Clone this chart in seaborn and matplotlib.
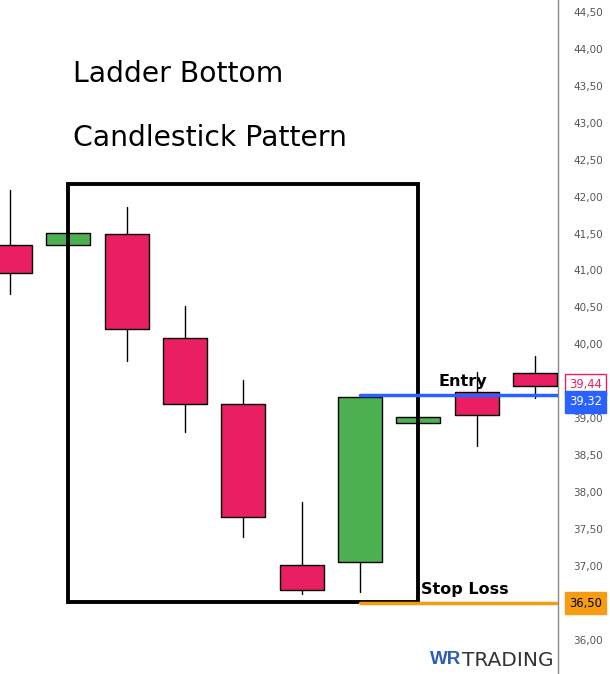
import matplotlib
matplotlib.use("Agg")
import matplotlib.pyplot as plt
import seaborn as sns
import numpy as np
import pandas as pd
from matplotlib.patches import Rectangle

# ---- data ----
opens = [41.35, 41.35, 41.50, 40.09, 39.19, 37.01, 37.06, 38.94, 39.36, 39.61]
closes = [40.97, 41.51, 40.21, 39.19, 37.66, 36.68, 39.29, 39.02, 39.05, 39.44]
highs = [42.09, 41.51, 41.86, 40.52, 39.52, 37.87, 39.29, 39.02, 39.63, 39.84]
lows = [40.68, 41.35, 39.78, 38.82, 37.39, 36.62, 36.65, 38.94, 38.63, 39.28]
y_ticks = [36.0, 36.5, 37.0, 37.5, 38.0, 38.5, 39.0, 39.5, 40.0, 40.5,
           41.0, 41.5, 42.0, 42.5, 43.0, 43.5, 44.0, 44.5]
hidden_ticks = [36.5, 39.5]   # covered by the price tags in the reference
entry_price = 39.32
stop_price = 36.50
last_price = 39.44
title_lines = ["Ladder Bottom", "Candlestick Pattern"]

df = pd.DataFrame({"i": np.arange(len(opens)), "open": opens, "close": closes,
                   "high": highs, "low": lows})

RED = "#e91e63"
GREEN = "#4caf50"
BLUE = "#2962ff"
ORANGE = "#f59c12"

sns.set_theme(style="white")
plt.rcParams["font.family"] = ["DejaVu Sans"]

fig = plt.figure(figsize=(6.10, 6.74), dpi=100)
ax = fig.add_axes([0, 0, 558 / 610, 1])

xmin, xmax = -0.171, 9.394
ymin, ymax = 35.54, 44.66
ax.set_xlim(xmin, xmax)
ax.set_ylim(ymin, ymax)

# wicks
for _, r in df.iterrows():
    ax.plot([r.i, r.i], [r.low, r.high], color="black", lw=1.0, zorder=2)

# bodies
w = 0.755
for _, r in df.iterrows():
    col = GREEN if r.close >= r.open else RED
    lo, hi = min(r.open, r.close), max(r.open, r.close)
    ax.add_patch(Rectangle((r.i - w / 2, lo), w, hi - lo, facecolor=col,
                           edgecolor="black", lw=1.0, zorder=3))

# highlight box
ax.add_patch(Rectangle((1, 36.51), 6, 42.17 - 36.51, fill=False,
                       edgecolor="black", lw=2.8, zorder=4))

# entry / stop lines
ax.plot([6, xmax], [entry_price, entry_price], color=BLUE, lw=2.5, zorder=5)
ax.plot([6, xmax], [stop_price, stop_price], color=ORANGE, lw=2.5, zorder=5)
ax.text(7.35, 39.50, "Entry", fontsize=11.5, fontweight="bold", ha="left",
        va="center", color="black", zorder=6)
ax.text(7.05, 36.68, "Stop Loss", fontsize=11.5, fontweight="bold", ha="left",
        va="center", color="black", zorder=6)

# titles
ax.text(1.08, 43.655, title_lines[0], fontsize=20.3, ha="left", va="center",
        color="black")
ax.text(1.08, 42.795, title_lines[1], fontsize=20.3, ha="left", va="center",
        color="black")

# axes styling
ax.set_xticks([])
ax.yaxis.tick_right()
ax.set_yticks(y_ticks)
ax.set_yticklabels(["" if v in hidden_ticks else f"{v:.2f}".replace(".", ",")
                    for v in y_ticks], fontsize=7.5, color="#555555")
ax.tick_params(axis="y", length=0, pad=11)
for s in ["top", "left", "bottom"]:
    ax.spines[s].set_visible(False)
ax.spines["right"].set_color("#888888")
ax.spines["right"].set_linewidth(1.0)

# price labels on the axis (dy in points: nudged apart like the trading platform)
def price_tag(v, fc, ec, tc, dy=0):
    ax.annotate(f"{v:.2f}".replace(".", ","), xy=(1.0, v),
                xycoords=ax.get_yaxis_transform(),
                xytext=(11, dy), textcoords="offset pixels",
                fontsize=8.3, color=tc, ha="left", va="center", zorder=10,
                annotation_clip=False,
                bbox=dict(boxstyle="square,pad=0.38", fc=fc, ec=ec, lw=1))

price_tag(last_price, "white", RED, RED, dy=1)
price_tag(entry_price, BLUE, BLUE, "white", dy=-7)
price_tag(stop_price, ORANGE, ORANGE, "black", dy=0)

# watermark
fig.text(430 / 610, 1 - 660 / 674, "WR", fontsize=13.5, fontweight="bold",
         color="#2d5fb3", ha="left", va="center", family=["Liberation Sans"])
fig.text(462 / 610, 1 - 660 / 674, "TRADING", fontsize=14.5, color="#333333",
         ha="left", va="center")

fig.savefig("out.png", dpi=100)
